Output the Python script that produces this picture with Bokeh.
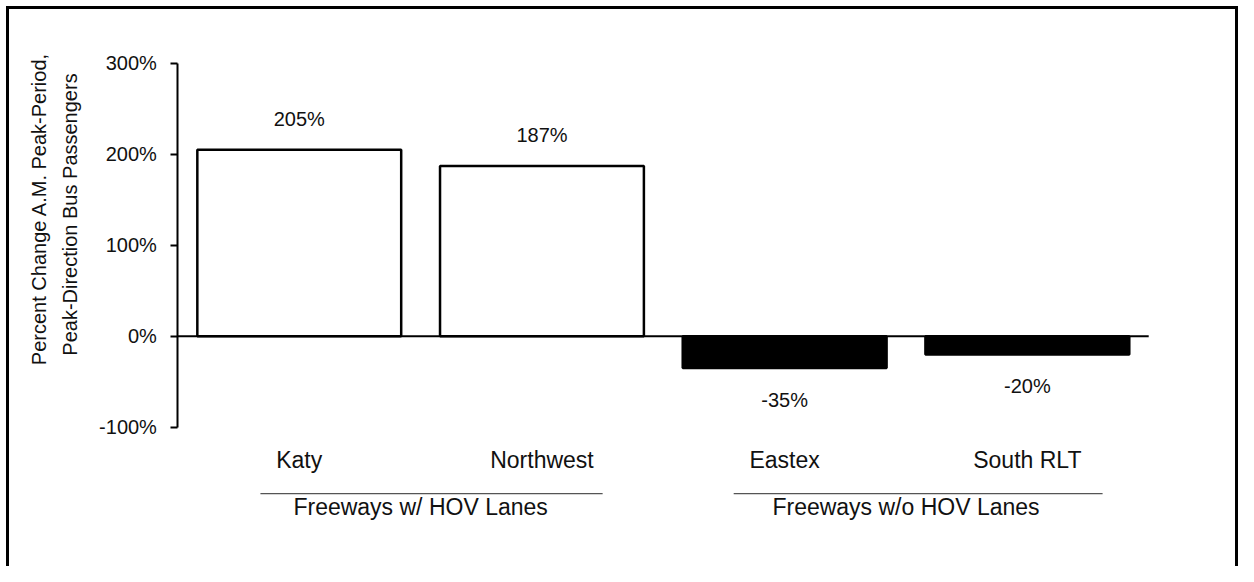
import math
from bokeh.plotting import figure
from bokeh.models import (Range1d, LinearAxis, FixedTicker, PrintfTickFormatter)
from bokeh.embed import file_html
from bokeh.resources import INLINE
from bokeh.core.properties import value

# ---- data ----
categories = ["Katy", "Northwest", "Eastex", "South RLT"]
groups = ["Freeways w/ HOV Lanes", "Freeways w/o HOV Lanes"]
group_members = [["Katy", "Northwest"], ["Eastex", "South RLT"]]
pct_change = [205, 187, -35, -20]
y_ticks = [-100, 0, 100, 200, 300]
y_title = ["Percent Change A.M. Peak-Period,", "Peak-Direction Bus Passengers"]

FONT = "Liberation Sans"
INK = "#111111"
W, H = 1238, 566

# positions derived from categories
xpos = [i + 0.5 for i in range(len(categories))]
cat_x = dict(zip(categories, xpos))
group_x = [sum(cat_x[m] for m in mem) / len(mem) for mem in group_members]

p = figure(x_range=Range1d(-0.731, 4.370), y_range=Range1d(-253.1, 368.9),
           width=W, height=H, output_backend="svg", toolbar_location=None,
           min_border=0, min_border_left=0, min_border_right=0,
           min_border_top=0, min_border_bottom=0)

p.outline_line_color = None
p.xgrid.grid_line_color = None
p.ygrid.grid_line_color = None
p.background_fill_alpha = 0
p.border_fill_alpha = 0
p.styles = {"box-shadow": ("inset 0 6px 0 0 #fff, inset 6px 0 0 0 #fff, "
                           "inset 0 9px 0 0 #000, inset 9px 0 0 0 #000, "
                           "inset -3px 0 0 0 #000")}

# y axis (drawn at x = 0 inside the frame)
ya = p.yaxis[0]
ya.fixed_location = 0
ya.bounds = (y_ticks[0], y_ticks[-1])
ya.ticker = FixedTicker(ticks=y_ticks)
ya.formatter = PrintfTickFormatter(format="%d%%")
ya.axis_line_color = "black"
ya.axis_line_width = 2
ya.major_tick_line_color = "black"
ya.major_tick_line_width = 2
ya.major_tick_out = 7
ya.major_tick_in = 0
ya.minor_tick_line_color = None
ya.major_label_standoff = 14
ya.major_label_text_font = FONT
ya.major_label_text_font_size = "20px"
ya.major_label_text_color = INK

# category axis
xa = p.xaxis[0]
xa.fixed_location = y_ticks[0]
xa.ticker = FixedTicker(ticks=xpos)
xa.major_label_overrides = {x: c for x, c in zip(xpos, categories)}
xa.axis_line_color = None
xa.major_tick_line_color = None
xa.minor_tick_line_color = None
xa.major_label_standoff = 14
xa.major_label_text_font = FONT
xa.major_label_text_font_size = "23px"
xa.major_label_text_color = INK

# group axis
ga = LinearAxis(fixed_location=y_ticks[0], ticker=FixedTicker(ticks=group_x),
                major_label_overrides={x: g for x, g in zip(group_x, groups)})
ga.axis_line_color = None
ga.major_tick_line_color = None
ga.minor_tick_line_color = None
ga.major_label_standoff = 61
ga.major_label_text_font = FONT
ga.major_label_text_font_size = "23px"
ga.major_label_text_color = INK
p.add_layout(ga, "below")

# bars
fills = ["white" if v >= 0 else "black" for v in pct_change]
p.vbar(x=xpos, top=pct_change, bottom=0, width=0.84,
       fill_color=fills, line_color="black", line_width=2.5)

# zero line across the category span
p.segment(x0=[0], y0=[0], x1=[len(categories)], y1=[0], line_color="black", line_width=2)

# value labels
pos = [(x, v) for x, v in zip(xpos, pct_change) if v >= 0]
neg = [(x, v) for x, v in zip(xpos, pct_change) if v < 0]
p.text(x=[x for x, _ in pos], y=[v for _, v in pos], text=[f"{v}%" for _, v in pos],
       text_align="center", text_baseline="alphabetic", y_offset=-31,
       text_font=value(FONT), text_font_size="20px", text_color=INK)
p.text(x=[x for x, _ in neg], y=[v for _, v in neg], text=[f"{v}%" for _, v in neg],
       text_align="center", text_baseline="top", y_offset=21,
       text_font=value(FONT), text_font_size="20px", text_color=INK)

# y title (two rotated lines left of the axis)
p.text(x=[-0.571, -0.443], y=[139.8, 133.7], text=y_title, angle=math.pi / 2,
       text_align="center", text_baseline="middle",
       text_font=value(FONT), text_font_size="20px", text_color=INK)

# group separator lines
insets = [(0.34, 0.25), (0.29, 0.19)]
sx0 = [cat_x[m[0]] - 0.5 + a for m, (a, b) in zip(group_members, insets)]
sx1 = [cat_x[m[-1]] + 0.5 - b for m, (a, b) in zip(group_members, insets)]
p.segment(x0=sx0, y0=[-173] * 2, x1=sx1, y1=[-173] * 2,
          line_color="#555555", line_width=1.2)

open("out.html", "w").write(file_html(p, INLINE))
